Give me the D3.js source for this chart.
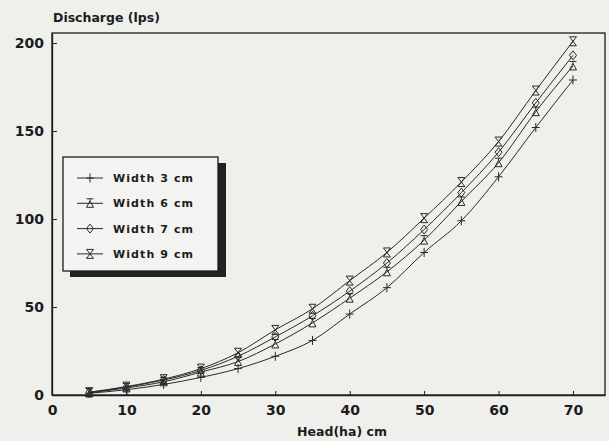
<!DOCTYPE html>
<html>
<head>
<meta charset="utf-8">
<script src="https://cdn.jsdelivr.net/npm/d3@7"></script>
<style>
  body { margin: 0; background: #efefec; }
  svg { display: block; font-family: "DejaVu Sans", sans-serif; }
</style>
</head>
<body>
<div id="chart"></div>
<script>
// Head (cm) and discharge (lps) for each notch width
const head = [5, 10, 15, 20, 25, 30, 35, 40, 45, 50, 55, 60, 65, 70];
const width3 = [1.0, 3.0, 6.0, 10, 15, 22, 31, 46, 61, 81, 99, 124, 152, 179];
const width6 = [1.2, 4.0, 7.5, 13, 19, 29, 41, 55, 70, 88, 110, 132, 161, 187];
const width7 = [1.4, 4.5, 8.5, 14, 22, 33, 45, 59, 75, 94, 115, 138, 166, 193];
const width9 = [1.6, 4.8, 9.0, 15, 24, 37, 49, 65, 81, 100.5, 121, 144, 173, 201];
const seriesNames = ["Width 3 cm", "Width 6 cm", "Width 7 cm", "Width 9 cm"];
const xTicks = [0, 10, 20, 30, 40, 50, 60, 70];
const yTicks = [0, 50, 100, 150, 200];

const W = 609, H = 441;
const ink = "#1c1c1c";

const svg = d3.select("#chart").append("svg")
    .attr("width", W)
    .attr("height", H);

const x = d3.scaleLinear().domain([0, 74.3]).range([52, 605]);
const y = d3.scaleLinear().domain([0, 205.7]).range([395, 33]);

// frame
svg.append("rect")
    .attr("x", x(0)).attr("y", y(205.7))
    .attr("width", x(74.3) - x(0)).attr("height", y(0) - y(205.7))
    .attr("fill", "none").attr("stroke", ink).attr("stroke-width", 1.3);

// X axis
const xAxis = svg.append("g")
    .attr("transform", `translate(0, ${y(0)})`)
    .call(d3.axisBottom(x).tickValues(xTicks).tickSizeInner(-4).tickSizeOuter(0).tickPadding(10));
xAxis.select(".domain").attr("stroke", ink).attr("stroke-width", 1.3);
xAxis.selectAll(".tick line").attr("stroke", ink);
xAxis.selectAll("text")
    .attr("fill", ink).attr("font-size", 14).attr("font-weight", "bold")
    .attr("font-family", "DejaVu Sans");

// Y axis
const yAxis = svg.append("g")
    .attr("transform", `translate(${x(0)}, 0)`)
    .call(d3.axisLeft(y).tickValues(yTicks).tickSizeInner(-5).tickSizeOuter(0).tickPadding(8));
yAxis.select(".domain").attr("stroke", ink).attr("stroke-width", 1.3);
yAxis.selectAll(".tick line").attr("stroke", ink);
yAxis.selectAll("text")
    .attr("fill", ink).attr("font-size", 14).attr("font-weight", "bold")
    .attr("font-family", "DejaVu Sans");

// axis titles
svg.append("text")
    .attr("x", 53).attr("y", 22)
    .attr("font-size", 12.5).attr("font-weight", "bold").attr("fill", ink)
    .text("Discharge (lps)");

svg.append("text")
    .attr("x", 342).attr("y", 436)
    .attr("text-anchor", "middle")
    .attr("font-size", 12.5).attr("font-weight", "bold").attr("fill", ink)
    .text("Head(ha) cm");

// marker shapes
const markers = [
    "M-4,0 H4 M0,-4.5 V4.5",                                    // plus
    "M-3.5,4 L0,-2.5 L3.5,4 Z M-3.5,-4.5 H3.5 M0,-4.5 V-2.5",   // bar + triangle
    "M0,-4.5 L3.5,0 L0,4.5 L-3.5,0 Z",                          // diamond
    "M-3.5,-4.5 H3.5 L-3.5,4.5 H3.5 Z"                          // hourglass
];

const allSeries = [width3, width6, width7, width9];

const line = d3.line()
    .x((d, i) => x(head[i]))
    .y(d => y(d))
    .curve(d3.curveMonotoneX);

allSeries.forEach(function(vals, s) {
    svg.append("path")
        .datum(vals)
        .attr("d", line)
        .attr("fill", "none")
        .attr("stroke", "#2a2a2a")
        .attr("stroke-width", 1);

    svg.append("g")
        .selectAll("path")
        .data(vals)
        .enter()
        .append("path")
            .attr("transform", (d, i) => `translate(${x(head[i])}, ${y(d)})`)
            .attr("d", markers[s])
            .attr("fill", "none")
            .attr("stroke", "#2a2a2a")
            .attr("stroke-width", 1);
});

// legend with drop shadow
const lg = svg.append("g");
lg.append("rect")
    .attr("x", 70).attr("y", 163).attr("width", 156).attr("height", 114)
    .attr("fill", "#222");
lg.append("rect")
    .attr("x", 63).attr("y", 157).attr("width", 155).attr("height", 114)
    .attr("fill", "#f3f3f1").attr("stroke", ink).attr("stroke-width", 1.3);

seriesNames.forEach(function(name, s) {
    const cy = 178 + s * 25.3;
    lg.append("line")
        .attr("x1", 77).attr("x2", 103).attr("y1", cy).attr("y2", cy)
        .attr("stroke", "#2a2a2a").attr("stroke-width", 1);
    lg.append("path")
        .attr("transform", `translate(90, ${cy})`)
        .attr("d", markers[s])
        .attr("fill", "none").attr("stroke", "#2a2a2a").attr("stroke-width", 1);
    lg.append("text")
        .attr("x", 113).attr("y", cy + 4)
        .attr("font-size", 11).attr("font-weight", "bold")
        .attr("letter-spacing", 1.1).attr("fill", ink)
        .text(name);
});
</script>
</body>
</html>
